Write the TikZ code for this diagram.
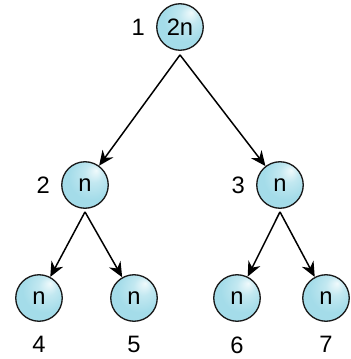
\documentclass[tikz,border=0pt]{standalone}
\usepackage{fontspec}
\setmainfont{Liberation Sans}
\usetikzlibrary{arrows.meta,positioning}

\definecolor{nodeblue}{RGB}{164,220,233}
\definecolor{nodelight}{RGB}{240,250,252}
\pgfdeclareradialshading{nodeshade}{\pgfpoint{12bp}{16bp}}{%
  color(0bp)=(nodelight); color(10bp)=(nodelight!40!nodeblue);
  color(24bp)=(nodeblue); color(50bp)=(nodeblue)}

\tikzset{
  treenode/.style={circle, draw=black!90, line width=0.75pt, shading=nodeshade,
    minimum size=0.93cm, inner sep=0pt, font=\fontsize{13.5}{16}\selectfont},
  numlabel/.style={font=\fontsize{13.5}{16}\selectfont},
  edge/.style={-{Stealth[length=8.5pt,width=7.5pt]}, line width=0.85pt}
}

\begin{document}
\begin{tikzpicture}[on grid]
    \useasboundingbox (0,0) rectangle (7.02,7.18);
    % Root
    \node [treenode, label={[numlabel, label distance=0.1cm]left:1}] (n1) at (3.6,6.64) {2n};

    % Second level
    \node [treenode, label={[numlabel, label distance=0.1cm]left:2}, below left=3.16cm and 1.9cm of n1] (n2) {n};
    \node [treenode, label={[numlabel, label distance=0.1cm]left:3}, below right=3.16cm and 2.0cm of n1] (n3) {n};

    % Leaves
    \node [treenode, label={[numlabel, label distance=0.17cm]below:4}, below left=2.26cm and 0.92cm of n2] (n4) {n};
    \node [treenode, label={[numlabel, label distance=0.17cm]below:5}, below right=2.26cm and 0.98cm of n2] (n5) {n};
    \node [treenode, label={[numlabel, label distance=0.17cm]below:6}, below left=2.26cm and 0.86cm of n3] (n6) {n};
    \node [treenode, label={[numlabel, label distance=0.17cm]below:7}, below right=2.26cm and 0.92cm of n3] (n7) {n};

    % Arrow roots
    \coordinate (r1) at ([yshift=-0.08cm]n1.south);
    \coordinate (r2) at ([yshift=-0.06cm]n2.south);
    \coordinate (r3) at ([yshift=-0.06cm]n3.south);

    % Arrows
    \draw [edge] (r1) -- (n2);
    \draw [edge] (r1) -- (n3);
    \draw [edge] (r2) -- (n4);
    \draw [edge] (r2) -- (n5);
    \draw [edge] (r3) -- (n6);
    \draw [edge] (r3) -- (n7);
\end{tikzpicture}
\end{document}
